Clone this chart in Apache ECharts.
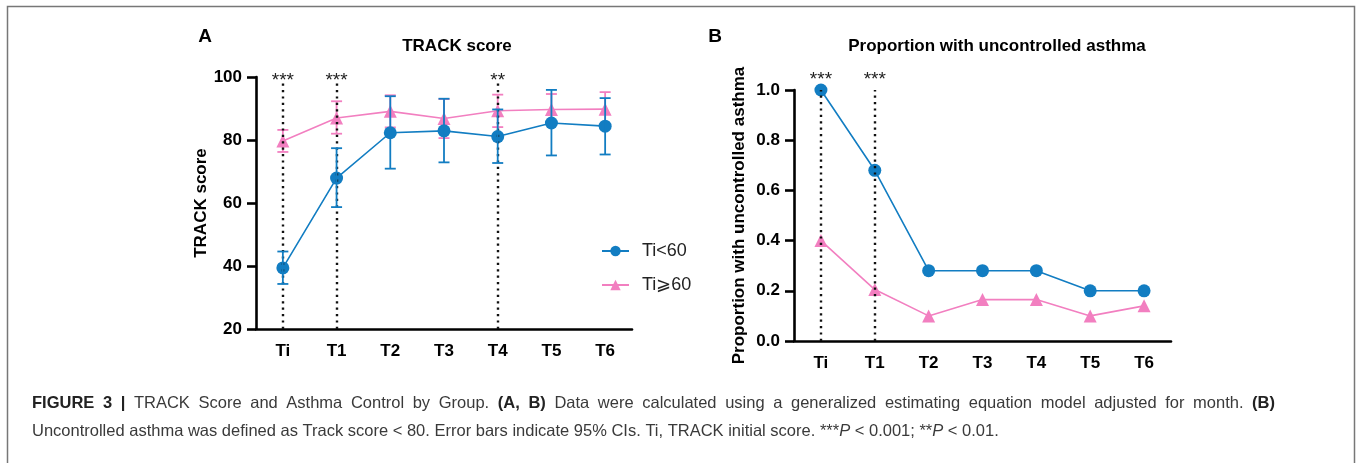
<!DOCTYPE html>
<html><head><meta charset="utf-8">
<script src="https://cdn.jsdelivr.net/npm/echarts@6/dist/echarts.min.js"></script>
<style>html,body{margin:0;padding:0;background:#fff}#c{width:1360px;height:463px}</style>
</head><body><div id="c"></div>
<script>
// ---- data ----
const categories = ['Ti', 'T1', 'T2', 'T3', 'T4', 'T5', 'T6'];
const seriesNames = ['Ti<60', 'Ti⩾60'];
const trackLow60 = [39.4, 67.9, 82.3, 82.9, 81.1, 85.4, 84.4];
const trackLow60Lo = [34.3, 58.7, 70.9, 72.9, 72.7, 75.1, 75.4];
const trackLow60Hi = [44.6, 77.4, 93.9, 93.1, 89.7, 95.9, 93.3];
const trackHigh60 = [79.7, 87.0, 89.1, 86.8, 89.3, 89.7, 89.8];
const trackHigh60Lo = [76.2, 82.0, 84.0, 80.6, 84.1, 84.8, 84.4];
const trackHigh60Hi = [83.2, 92.3, 94.2, 93.0, 94.4, 94.6, 95.2];
const propLow60 = [1.0, 0.68, 0.28, 0.28, 0.28, 0.20, 0.20];
const propHigh60 = [0.40, 0.205, 0.10, 0.165, 0.165, 0.10, 0.14];
const sigA = ['Ti', 'T1', 'T4'];
const sigAStars = ['***', '***', '**'];
const sigB = ['Ti', 'T1'];
const sigBStars = ['***', '***'];
const titleA = 'TRACK score';
const titleB = 'Proportion with uncontrolled asthma';
const yNameA = 'TRACK score';
const yNameB = 'Proportion with uncontrolled asthma';
// caption line 1 segments: [text, bold]
const captionLine1 = [
  ['FIGURE 3 |', true],
  ['TRACK Score and Asthma Control by Group.', false],
  ['(A, B)', true],
  ['Data were calculated using a generalized estimating equation model adjusted for month.', false],
  ['(B)', true]
];
const caption2 = 'Uncontrolled asthma was defined as Track score < 80. Error bars indicate 95% CIs. Ti, TRACK initial score. ***';
const caption2P1 = 'P';
const caption2m = ' < 0.001; **';
const caption2P2 = 'P';
const caption2e = ' < 0.01.';

// ---- style ----
const FF = '"Liberation Sans", Arial, Helvetica, sans-serif';
const BLUE = '#127dc2';
const PINK = '#f27fc0';
const CAP_SIZE = 16.5;
const CAP_X0 = 32, CAP_X1 = 1275;

function errorItem(color) {
  return function (params, api) {
    const x = api.value(0), lo = api.value(1), hi = api.value(2);
    const pHi = api.coord([x, hi]);
    const pLo = api.coord([x, lo]);
    const hw = 5.5;
    const st = { stroke: color, lineWidth: 1.8 };
    return {
      type: 'group', children: [
        { type: 'line', shape: { x1: pHi[0], y1: pHi[1], x2: pLo[0], y2: pLo[1] }, style: st },
        { type: 'line', shape: { x1: pHi[0] - hw, y1: pHi[1], x2: pHi[0] + hw, y2: pHi[1] }, style: st },
        { type: 'line', shape: { x1: pLo[0] - hw, y1: pLo[1], x2: pLo[0] + hw, y2: pLo[1] }, style: st }
      ]
    };
  };
}

function sigMarkLine(cats, stars, y0, y1, dist) {
  return {
    silent: true, symbol: 'none', animation: false,
    lineStyle: { color: '#111', type: [2.2, 4.2], width: 2.4 },
    label: { show: true, position: 'end', formatter: '{b}', fontSize: 19, color: '#222', fontFamily: FF, distance: dist },
    emphasis: { disabled: true },
    data: cats.map((c, i) => [{ coord: [c, y0], name: stars[i] }, { coord: [c, y1] }])
  };
}

const axisLineStyle = { color: '#000', width: 2.6 };
function xAxisCfg(gi) {
  return {
    type: 'category', gridIndex: gi, data: categories, boundaryGap: true,
    axisLine: { lineStyle: axisLineStyle },
    axisTick: { alignWithLabel: true, length: 8, lineStyle: axisLineStyle },
    axisLabel: { fontSize: 17, fontWeight: 'bold', color: '#000', fontFamily: FF, margin: 14 },
    splitLine: { show: false }
  };
}
function yAxisCfg(gi, min, max, interval, name, gap, fmt) {
  return {
    type: 'value', gridIndex: gi, min: min, max: max, interval: interval,
    name: name, nameLocation: 'middle', nameGap: gap,
    nameTextStyle: { fontSize: 17, fontWeight: 'bold', color: '#000', fontFamily: FF },
    axisLine: { show: true, lineStyle: axisLineStyle },
    axisTick: { show: true, length: 9, lineStyle: axisLineStyle },
    axisLabel: { fontSize: 17, fontWeight: 'bold', color: '#000', fontFamily: FF, margin: 14, formatter: fmt },
    splitLine: { show: false }
  };
}

// justified caption line 1 (words laid out across the full text width)
const mctx = document.createElement('canvas').getContext('2d');
function textW(t, bold) {
  mctx.font = (bold ? 'bold ' : '') + CAP_SIZE + 'px ' + FF;
  return mctx.measureText(t).width;
}
const words = [];
captionLine1.forEach(([t, b]) => t.split(' ').forEach(w => words.push([w, b])));
const widths = words.map(([w, b]) => textW(w, b));
const sumW = widths.reduce((a, b) => a + b, 0);
const gapW = (CAP_X1 - CAP_X0 - sumW) / (words.length - 1);
const captionGraphics = [];
let cx = CAP_X0;
words.forEach(([w, b], i) => {
  captionGraphics.push({
    type: 'text', x: cx, y: 403, silent: true,
    style: { text: w, fontSize: CAP_SIZE, fontWeight: b ? 'bold' : 'normal', fill: b ? '#222' : '#3a3a3a', fontFamily: FF, verticalAlign: 'middle' }
  });
  cx += widths[i] + gapW;
});
captionGraphics.push({
  type: 'text', x: CAP_X0, y: 431, silent: true,
  style: {
    text: '{r|' + caption2 + '}{i|' + caption2P1 + '}{r|' + caption2m + '}{i|' + caption2P2 + '}{r|' + caption2e + '}',
    verticalAlign: 'middle', fontFamily: FF,
    rich: {
      r: { fontSize: CAP_SIZE, fill: '#3a3a3a', fontFamily: FF },
      i: { fontSize: CAP_SIZE, fontStyle: 'italic', fill: '#3a3a3a', fontFamily: FF }
    }
  }
});

const chart = echarts.init(document.getElementById('c'), null, { renderer: 'canvas' });
const option = {
  animation: false,
  backgroundColor: '#fff',
  grid: [
    { left: 256, top: 77, width: 376, height: 252 },
    { left: 794, top: 90, width: 377, height: 251 }
  ],
  xAxis: [xAxisCfg(0), xAxisCfg(1)],
  yAxis: [
    yAxisCfg(0, 20, 100, 20, yNameA, 45, v => String(v)),
    yAxisCfg(1, 0, 1, 0.2, yNameB, 46, v => v.toFixed(1))
  ],
  legend: {
    orient: 'vertical', left: 601, top: 242, padding: 0, itemWidth: 27, itemHeight: 13, itemGap: 16,
    data: seriesNames, selectedMode: false,
    textStyle: { fontSize: 18, color: '#222', fontFamily: FF, padding: [0, 0, 0, 8] }
  },
  series: [
    {
      name: seriesNames[1], type: 'line', xAxisIndex: 0, yAxisIndex: 0, data: trackHigh60,
      symbol: 'triangle', symbolSize: 13, color: PINK, lineStyle: { width: 1.6, color: PINK },
      itemStyle: { color: PINK }, z: 2
    },
    {
      type: 'custom', xAxisIndex: 0, yAxisIndex: 0, renderItem: errorItem(PINK),
      data: categories.map((c, i) => [i, trackHigh60Lo[i], trackHigh60Hi[i]]),
      encode: { x: 0, y: [1, 2] }, z: 3
    },
    {
      name: seriesNames[0], type: 'line', xAxisIndex: 0, yAxisIndex: 0, data: trackLow60,
      symbol: 'circle', symbolSize: 13, color: BLUE, lineStyle: { width: 1.6, color: BLUE },
      itemStyle: { color: BLUE }, z: 4,
      markLine: sigMarkLine(sigA, sigAStars, 20, 98, -7)
    },
    {
      type: 'custom', xAxisIndex: 0, yAxisIndex: 0, renderItem: errorItem(BLUE),
      data: categories.map((c, i) => [i, trackLow60Lo[i], trackLow60Hi[i]]),
      encode: { x: 0, y: [1, 2] }, z: 5
    },
    {
      name: seriesNames[1], type: 'line', xAxisIndex: 1, yAxisIndex: 1, data: propHigh60,
      symbol: 'triangle', symbolSize: 13, color: PINK, lineStyle: { width: 1.6, color: PINK },
      itemStyle: { color: PINK }, z: 2
    },
    {
      name: seriesNames[0], type: 'line', xAxisIndex: 1, yAxisIndex: 1, data: propLow60,
      symbol: 'circle', symbolSize: 13, color: BLUE, lineStyle: { width: 1.6, color: BLUE },
      itemStyle: { color: BLUE }, z: 4,
      markLine: sigMarkLine(sigB, sigBStars, 0, 1, 1)
    }
  ],
  graphic: [
    { type: 'rect', shape: { x: 7.5, y: 6.5, width: 1347, height: 470 }, style: { fill: 'none', stroke: '#777', lineWidth: 1.5 }, silent: true },
    { type: 'text', x: 205, y: 37, style: { text: 'A', fontSize: 19, fontWeight: 'bold', fill: '#000', fontFamily: FF, align: 'center', verticalAlign: 'middle' } },
    { type: 'text', x: 715, y: 37, style: { text: 'B', fontSize: 19, fontWeight: 'bold', fill: '#000', fontFamily: FF, align: 'center', verticalAlign: 'middle' } },
    { type: 'text', x: 457, y: 46, style: { text: titleA, fontSize: 17, fontWeight: 'bold', fill: '#000', fontFamily: FF, align: 'center', verticalAlign: 'middle' } },
    { type: 'text', x: 997, y: 46, style: { text: titleB, fontSize: 17, fontWeight: 'bold', fill: '#000', fontFamily: FF, align: 'center', verticalAlign: 'middle' } }
  ].concat(captionGraphics)
};
chart.setOption(option);
</script></body></html>
